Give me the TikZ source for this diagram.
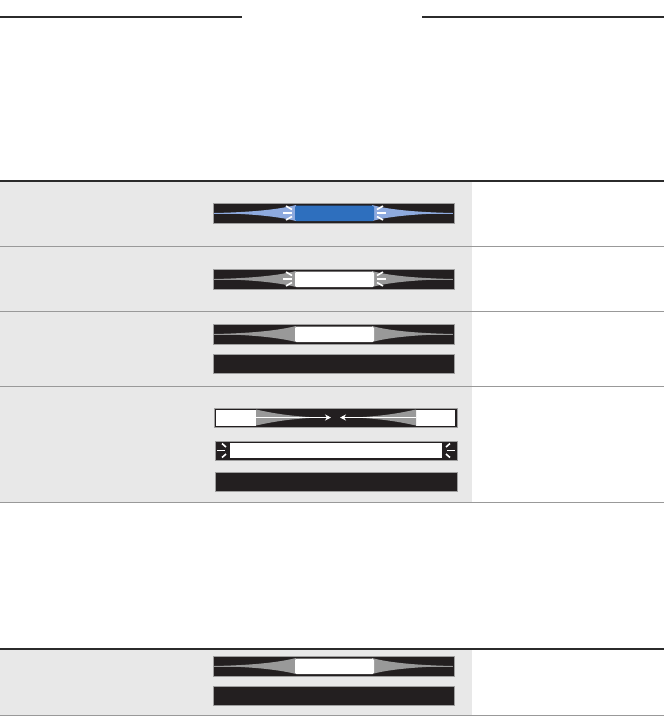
\documentclass[tikz,border=0pt]{standalone}
\usetikzlibrary{arrows.meta}
\definecolor{panelgray}{HTML}{E8E8E8}
\definecolor{bardark}{HTML}{231F20}
\definecolor{blockblue}{HTML}{2E6FBE}
\definecolor{wedgeblue}{HTML}{8EAADF}
\definecolor{wedgegray}{HTML}{999999}
\definecolor{rulegray}{HTML}{999999}
\definecolor{ruledark}{HTML}{2B2B2B}
\tikzset{
  panel/.style={fill=panelgray, draw=none},
  darkrule/.style={draw=ruledark, line width=1.3pt},
  lightrule/.style={draw=rulegray, line width=1pt},
  barbody/.style={fill=bardark, draw=gray!75, line width=0.5pt},
  tickmark/.style={draw=white, line width=1.6pt},
  arrowline/.style={draw=white, line width=1pt, -{Stealth[length=6pt,width=6pt]}},
}
% tapered bar: #1 top y, #2 wedge colour, #3 centre colour, #4 ticks (1/0)
\newcommand{\TaperBar}[4]{%
  \pgfmathsetmacro{\cy}{#1+10}%
  \draw[barbody] (213,#1) rectangle (454,#1+20);
  \draw[draw=#2, line width=0.8pt] (214,\cy) -- (453,\cy);
  \fill[#2] (214,\cy) .. controls (262,\cy-1) and (284,\cy-5) .. (296,\cy-8)
     -- (296,\cy+8) .. controls (284,\cy+5) and (262,\cy+1) .. (214,\cy) -- cycle;
  \fill[#2] (453,\cy) .. controls (405,\cy-1) and (383,\cy-5) .. (372,\cy-8)
     -- (372,\cy+8) .. controls (383,\cy+5) and (405,\cy+1) .. (453,\cy) -- cycle;
  \fill[#3, rounded corners=1.5pt] (295,#1+2.5) rectangle (374,#1+18);
  \ifnum#4=1
    \draw[tickmark] (283,\cy) -- (292,\cy);
    \draw[tickmark] (286,\cy-7) -- (292,\cy-3.5);
    \draw[tickmark] (286,\cy+7) -- (292,\cy+3.5);
    \draw[tickmark] (377,\cy) -- (386,\cy);
    \draw[tickmark] (383,\cy-7) -- (377,\cy-3.5);
    \draw[tickmark] (383,\cy+7) -- (377,\cy+3.5);
  \fi
}
\begin{document}
\begin{tikzpicture}[x=1pt,y=-1pt]
\useasboundingbox (0,0) rectangle (664,716);
\fill[white] (0,0) rectangle (664,716);
% header rules
\draw[darkrule] (0,17) -- (242,17);
\draw[darkrule] (422,17) -- (664,17);
% grey panels
\fill[panel] (0,181) rectangle (472,502);
\fill[panel] (0,649) rectangle (472,716);
% row rules
\draw[darkrule] (0,181) -- (664,181);
\draw[lightrule] (0,246) -- (664,246);
\draw[lightrule] (0,311) -- (664,311);
\draw[lightrule] (0,386) -- (664,386);
\draw[lightrule] (0,502) -- (664,502);
\draw[darkrule] (0,649) -- (664,649);
\draw[lightrule] (0,715.5) -- (664,715.5);
% row 1
\TaperBar{203}{wedgeblue}{blockblue}{1}
% row 2
\TaperBar{269}{wedgegray}{white}{1}
% row 3
\TaperBar{324}{wedgegray}{white}{0}
\draw[barbody] (213,354) rectangle (454,373);
% row 4, bar 1
\draw[barbody] (214,408) rectangle (457,427);
\fill[white] (216,409.5) rectangle (256,425.5);
\fill[white] (416,409.5) rectangle (455,425.5);
\fill[wedgegray] (256,409.5) .. controls (268,412) and (285,416) .. (318,417.5)
   .. controls (285,419) and (268,423) .. (256,425.5) -- cycle;
\fill[wedgegray] (416,409.5) .. controls (404,412) and (387,416) .. (354,417.5)
   .. controls (387,419) and (404,423) .. (416,425.5) -- cycle;
\coordinate (la) at (256,417.5);
\coordinate (lb) at (331,417.5);
\coordinate (ra) at (416,417.5);
\coordinate (rb) at (340,417.5);
\draw[arrowline] (la) -- (lb);
\draw[arrowline] (ra) -- (rb);
% row 4, bar 2
\draw[barbody] (215,441) rectangle (457,460);
\fill[white] (230,443) rectangle (442,458);
\draw[tickmark] (217,450.5) -- (225,450.5);
\draw[tickmark] (222,443.5) -- (226,447);
\draw[tickmark] (222,457.5) -- (226,454);
\draw[tickmark] (447,450.5) -- (455,450.5);
\draw[tickmark] (450,443.5) -- (446,447);
\draw[tickmark] (450,457.5) -- (446,454);
% row 4, bar 3
\draw[barbody] (215,472) rectangle (457,491);
% row 5
\TaperBar{656}{wedgegray}{white}{0}
\draw[barbody] (213,686) rectangle (454,705);
\end{tikzpicture}
\end{document}
